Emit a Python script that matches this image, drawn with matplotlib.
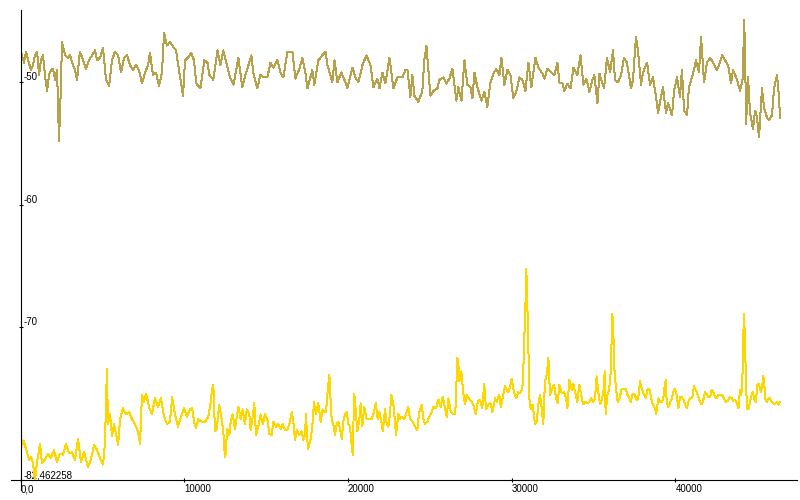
import matplotlib
matplotlib.use("Agg")
import matplotlib.pyplot as plt
from matplotlib.ticker import FixedLocator, FixedFormatter

# upper trace (olive)
upper_x = [
    0, 200, 320, 450, 630, 750, 870, 1000, 1120, 1240,
    1360, 1480, 1610, 1730, 1850, 1970, 2100, 2220, 2340, 2460,
    2520, 2710, 2890, 3010, 3200, 3320, 3440, 3620, 3810, 3990,
    4170, 4360, 4540, 4660, 4850, 5030, 5210, 5400, 5580, 5760,
    5950, 6130, 6310, 6500, 6680, 6860, 7050, 7230, 7410, 7600,
    7780, 7900, 8080, 8270, 8450, 8630, 8760, 8940, 9120, 9310,
    9490, 9670, 9920, 10040, 10220, 10410, 10590,
    10730, 10980, 11220, 11410, 11530, 11770, 12020, 12200, 12380, 12630,
    12810, 13000, 13300, 13540, 13730, 13850, 14090, 14220, 14460, 14640,
    14830, 15070, 15260, 15440, 15680, 15870, 16050, 16290, 16600, 16780,
    17030, 17210, 17390, 17520, 17820, 17940, 18190, 18430, 18620, 18740,
    19040, 19170, 19350, 19590, 19780, 19960, 20270, 20450, 20630, 20880,
    21120, 21370, 21550, 21790, 21920, 22100, 22280, 22530, 22770, 23020,
    23320, 23500, 23630, 23810, 23930, 24050, 24300, 24540, 24660, 24790,
    24910, 25030, 25210, 25460, 25580, 25830, 26010, 26190, 26380, 26620,
    26740, 26930, 27110, 27290, 27480, 27600, 27720, 27900, 28150, 28330,
    28510, 28700, 28880, 29060, 29250, 29370, 29550, 29740, 29920, 30100,
    30290, 30470, 30650, 30840, 31020, 31200, 31450, 31630, 31880, 32000,
    32180, 32430, 32610, 32790, 32910, 33100, 33220, 33400, 33590, 33770,
    34010, 34200, 34380, 34560, 34750, 34930, 35050, 35240, 35360,
    35640, 35820, 36010, 36190, 36310, 36490, 36680, 36860, 37040, 37290,
    37410, 37590, 37720, 37900, 38020, 38270, 38450, 38630, 38820, 38940,
    39120, 39240, 39430, 39550, 39790, 39920, 40100, 40280, 40400, 40530,
    40710, 40830, 41080, 41260, 41440, 41570, 41750, 41930, 42120, 42300,
    42540, 42670, 42850, 43030, 43220, 43400, 43520, 43770, 43950, 44130,
    44190, 44250, 44320, 44440, 44560, 44740, 44870, 44990, 45110, 45290,
    45420, 45600, 45720, 45900, 46030, 46210, 46330, 46390,
]
upper_db = [
    -47.4, -48.4, -47.5, -48.2, -49.0, -48.6, -47.8, -47.5, -49.4, -48.2,
    -47.8, -49.4, -50.7, -49.4, -49.0, -48.9, -49.8, -49.0, -54.8, -50.2,
    -46.7, -47.8, -48.0, -47.8, -48.6, -49.0, -49.8, -47.5, -48.2, -48.9,
    -48.2, -47.8, -47.4, -48.2, -48.0, -47.2, -49.8, -50.3, -48.2, -47.5,
    -47.8, -49.2, -48.0, -47.8, -48.6, -49.0, -48.6, -49.0, -50.1, -49.2,
    -48.6, -47.6, -49.4, -49.2, -50.3, -49.2, -46.0, -47.0, -46.7, -47.1,
    -47.4, -49.0, -51.1, -48.2, -48.0, -47.6, -48.2,
    -50.1, -50.5, -48.2, -48.4, -49.4, -49.8, -47.4, -48.6, -47.4, -48.8,
    -49.7, -50.2, -48.0, -50.4, -49.4, -48.9, -47.8, -49.3, -50.5, -49.4,
    -49.6, -49.6, -48.4, -48.8, -48.2, -49.2, -49.6, -47.5, -47.5, -49.7,
    -48.9, -48.0, -49.2, -50.5, -49.0, -50.2, -48.2, -47.8, -47.5, -48.6,
    -50.0, -48.2, -50.0, -49.2, -49.8, -50.5, -48.8, -49.6, -50.0, -48.6,
    -47.8, -48.6, -50.4, -49.7, -50.5, -49.2, -50.1, -48.0, -50.5, -49.6,
    -49.6, -49.0, -49.0, -51.2, -49.4, -51.1, -51.6, -50.7, -48.2, -47.0,
    -49.0, -51.1, -50.7, -50.5, -49.8, -49.6, -50.1, -49.7, -48.9, -51.5,
    -50.4, -51.5, -48.2, -50.2, -50.4, -51.3, -49.2, -50.4, -51.5, -50.8,
    -52.0, -50.0, -49.3, -48.9, -49.4, -48.0, -50.2, -49.0, -49.4, -51.3,
    -50.7, -49.6, -49.8, -50.7, -48.4, -50.4, -48.0, -48.8, -49.3, -49.7,
    -48.9, -49.2, -49.4, -48.4, -50.0, -50.1, -50.7, -50.1, -50.5, -48.8,
    -49.4, -47.8, -50.2, -49.7, -50.8, -49.8, -49.4, -51.7, -49.3,
    -50.5, -48.0, -49.2, -47.4, -49.8, -50.0, -49.4, -48.0, -48.4, -50.5,
    -49.8, -46.3, -47.5, -50.2, -49.2, -48.4, -50.2, -49.6, -51.2, -52.5,
    -51.2, -50.4, -52.5, -51.7, -52.7, -50.7, -49.6, -51.2, -49.0, -52.3,
    -52.7, -50.4, -49.3, -48.2, -49.2, -46.3, -50.0, -48.4, -48.0, -48.4,
    -49.0, -48.6, -47.8, -48.2, -48.6, -50.1, -49.0, -49.8, -50.7, -49.6,
    -44.9, -46.8, -53.4, -49.6, -52.5, -53.8, -52.3, -52.9, -54.5, -50.5,
    -52.1, -52.9, -53.1, -52.7, -50.5, -49.4, -51.2, -52.9,
]

# lower trace (yellow)
lower_x = [
    0, 80, 200, 380, 510, 630, 750, 870, 1000, 1180,
    1300, 1480, 1670, 1850, 2030, 2220, 2400, 2580, 2770, 2950,
    3130, 3320, 3500, 3680, 3870, 4110, 4290, 4480, 4660, 4850,
    5030, 5150, 5210, 5270, 5330, 5460, 5580, 5700, 5820, 5950,
    6070, 6250, 6430, 6620, 6800, 6980, 7170, 7290, 7410, 7530,
    7660, 7840, 8020, 8200, 8390, 8570, 8760, 8940, 9120, 9250,
    9430, 9610, 9790, 9980, 10160,
    10340, 10480, 10590, 10710, 10850, 11060, 11260, 11460, 11610, 11690,
    11770, 11870, 11980, 12130, 12280, 12380, 12460, 12500, 12620, 12750,
    12830, 12950, 13090, 13200, 13300, 13440, 13560, 13700, 13810, 13970,
    14050, 14180, 14270, 14380, 14520, 14660, 14790, 14930, 15070, 15190,
    15340, 15430, 15600, 15740, 15890, 16010, 16150, 16290, 16410, 16560,
    16660, 16760, 16860, 17020, 17170, 17270, 17370, 17430, 17510, 17570,
    17720, 17840, 17920, 18040, 18180, 18330, 18450, 18530, 18650, 18790,
    18860,
    18900, 18960, 19020, 19140, 19200, 19310, 19410, 19510, 19610, 19710,
    19810, 19920, 20020, 20120, 20220, 20290, 20350, 20380, 20490, 20570,
    20690, 20770, 20870, 20990, 21140, 21240, 21450, 21590, 21690, 21810,
    21910, 22060, 22120, 22260, 22360, 22460, 22560, 22640, 22770, 22870,
    22930, 23070, 23170, 23280, 23420, 23540, 23680, 23790, 23950, 24100,
    24230, 24350, 24500, 24600, 24700, 24840, 24970, 25110, 25210, 25380,
    25520, 25660, 25780, 25880, 26030, 26130, 26270, 26430, 26550, 26680,
    26740, 26800, 26920, 27040, 27150, 27250, 27410, 27560, 27650, 27800,
    27920, 28060, 28200, 28320, 28430, 28570,
    28700, 28820, 28980, 29080, 29240, 29330, 29450, 29590, 29690, 29790,
    29900, 30000, 30140, 30260, 30400, 30510, 30650, 30710, 30770, 30860,
    30890, 30950, 31040, 31080, 31160, 31280, 31420, 31530, 31630, 31730,
    31830, 31930, 32030, 32140, 32240, 32340, 32440, 32590, 32710, 32810,
    32910, 33060, 33200, 33320, 33400, 33520, 33670, 33760, 33910, 34010,
    34130, 34280, 34380, 34480, 34620, 34740, 34850, 34990, 35090, 35190,
    35290, 35400, 35500, 35600, 35680, 35740, 35840, 35950, 36050, 36110,
    36150, 36210, 36270, 36370, 36480, 36570, 36720, 36820, 36970, 37060,
    37190, 37270, 37390, 37490, 37640, 37730, 37840, 37940, 38080, 38190,
    38290, 38410, 38530, 38620, 38760, 38820, 38960,
    39060, 39170, 39260, 39350, 39410, 39470, 39570, 39670, 39780, 39870,
    39960, 40080, 40180, 40280, 40390, 40490, 40590, 40690, 40790, 40890,
    41030, 41140, 41200, 41300, 41400, 41500, 41610, 41710, 41810, 41910,
    42010, 42120, 42220, 42320, 42420, 42530, 42620, 42730, 42830, 42930,
    43080, 43200, 43340, 43440, 43540, 43640, 43750, 43850, 43950, 44030,
    44090, 44150, 44190, 44250, 44320, 44400, 44460, 44560, 44620, 44730,
    44820, 44910, 45010, 45110, 45170, 45230, 45310, 45370, 45430, 45500,
    45580, 45680, 45780, 45890, 45980, 46090, 46190, 46290, 46390,
]
lower_db = [
    -78.4, -79.6, -79.3, -80.2, -80.8, -80.6, -81.1, -82.462258, -81.0, -79.5,
    -81.1, -80.8, -80.3, -80.7, -80.0, -81.0, -80.3, -80.4, -79.5, -80.3,
    -80.2, -80.8, -79.1, -81.0, -80.2, -81.4, -80.8, -79.6, -80.0, -80.7,
    -81.2, -79.5, -76.1, -73.4, -77.9, -77.1, -78.9, -77.9, -78.7, -79.6,
    -77.5, -76.6, -77.1, -76.9, -77.5, -77.9, -78.5, -79.5, -75.5, -76.1,
    -75.4, -76.5, -77.1, -75.8, -76.5, -75.8, -77.3, -77.9, -77.7, -75.7,
    -77.1, -78.1, -77.3, -76.6, -77.3,
    -76.7, -76.6, -77.7, -78.2, -77.5, -77.7, -77.7, -77.3, -76.1, -75.1,
    -74.7, -78.5, -78.3, -76.3, -77.5, -78.5, -80.2, -80.6, -78.3, -78.8,
    -77.7, -77.1, -78.3, -77.3, -76.5, -77.5, -76.7, -77.9, -76.7, -77.1,
    -78.4, -77.3, -76.2, -78.8, -78.1, -77.1, -77.9, -77.1, -77.5, -78.7,
    -78.8, -77.7, -78.1, -77.9, -78.3, -77.9, -78.4, -78.4, -77.9, -76.9,
    -77.7, -79.2, -78.4, -78.8, -78.5, -79.2, -78.8, -77.1, -79.3, -79.9,
    -79.1, -77.7, -76.1, -77.1, -76.2, -77.7, -76.7, -76.9, -76.9, -74.7,
    -73.9,
    -74.8, -76.9, -77.7, -78.1, -78.8, -77.9, -77.7, -78.3, -79.1, -77.7,
    -77.1, -76.9, -77.9, -78.1, -79.6, -80.4, -76.6, -75.4, -77.1, -78.5,
    -77.5, -76.2, -78.1, -76.5, -77.5, -77.5, -77.5, -76.9, -76.2, -77.5,
    -76.9, -77.9, -78.5, -76.7, -77.9, -78.1, -77.1, -75.5, -76.3, -77.7,
    -78.8, -77.1, -77.5, -77.3, -77.5, -77.1, -76.5, -77.5, -77.7, -78.1,
    -78.4, -76.9, -76.3, -77.5, -77.9, -77.7, -77.3, -76.9, -76.5, -76.6,
    -75.9, -76.5, -75.7, -76.3, -77.3, -75.8, -76.9, -77.1, -77.1, -72.5,
    -73.0, -74.4, -73.6, -75.4, -76.3, -75.5, -75.9, -76.1, -76.3, -77.1,
    -76.1, -75.9, -76.6, -74.6, -76.7, -76.3,
    -76.2, -76.9, -75.8, -76.1, -75.5, -76.5, -75.7, -74.8, -75.1, -75.3,
    -74.8, -74.2, -75.3, -75.8, -75.3, -75.4, -75.0, -73.4, -71.0, -67.2,
    -65.2, -67.9, -73.0, -75.8, -76.7, -76.3, -77.9, -77.7, -76.3, -75.5,
    -76.6, -77.9, -74.4, -73.9, -72.5, -75.5, -75.1, -74.7, -75.8, -76.2,
    -74.7, -75.4, -75.3, -75.8, -76.6, -74.3, -75.1, -74.6, -75.5, -76.1,
    -74.7, -75.8, -76.3, -76.1, -76.2, -76.1, -75.8, -76.1, -75.8, -74.0,
    -75.3, -76.3, -75.9, -75.3, -73.6, -77.1, -75.5, -75.1, -73.6, -70.6,
    -68.9, -70.5, -73.4, -75.0, -76.1, -75.9, -75.0, -75.0, -75.0, -75.5,
    -75.8, -76.1, -75.4, -75.5, -75.9, -75.8, -74.4, -75.0, -75.5, -75.8,
    -75.1, -75.0, -75.8, -76.3, -76.6, -77.1, -75.8,
    -76.1, -76.1, -75.8, -74.7, -74.3, -76.1, -76.5, -76.2, -75.8, -75.3,
    -75.0, -75.5, -76.6, -75.7, -75.7, -75.9, -76.3, -76.6, -76.1, -75.8,
    -75.8, -74.8, -75.0, -75.3, -75.7, -76.1, -76.3, -75.9, -75.3, -75.4,
    -75.7, -75.7, -75.1, -75.3, -75.7, -75.8, -75.5, -75.5, -75.5, -75.7,
    -76.1, -76.0, -75.7, -75.8, -76.0, -75.9, -76.2, -76.6, -75.1, -75.5,
    -74.4, -70.7, -68.9, -70.9, -75.0, -76.7, -76.7, -76.1, -75.7, -75.3,
    -75.8, -76.1, -74.7, -74.6, -75.0, -75.3, -74.7, -74.0, -74.6, -75.9,
    -76.1, -75.8, -75.8, -76.1, -76.2, -76.3, -76.1, -76.3, -76.1,
]

x_ticks = [0, 10000, 20000, 30000, 40000]
x_tick_labels = ["0,0", "10000", "20000", "30000", "40000"]
y_ticks = [-82.462258, -70, -60, -50]
y_tick_labels = ["-82,462258", "-70", "-60", "-50"]

fig = plt.figure(figsize=(8, 5), dpi=100)
fig.set_facecolor("white")
ax = fig.add_axes([0.02588, 0.04, 0.96975, 0.94])

ax.plot(upper_x, upper_db, color="#b5a24a", linewidth=0.72, antialiased=False)
ax.plot(lower_x, lower_db, color="#ffd700", linewidth=0.72, antialiased=False)

ax.set_xlim(0, 47400)
ax.set_ylim(-82.462258, -44.1)

for side in ["top", "right"]:
    ax.spines[side].set_visible(False)
ax.spines["left"].set_linewidth(0.8)
ax.spines["bottom"].set_linewidth(0.8)
ax.spines["left"].set_bounds(-83.28, -44.1)
ax.spines["bottom"].set_bounds(-610, 47400)

ax.xaxis.set_major_locator(FixedLocator(x_ticks))
ax.xaxis.set_major_formatter(FixedFormatter(x_tick_labels))
ax.yaxis.set_major_locator(FixedLocator(y_ticks))
ax.yaxis.set_major_formatter(FixedFormatter(y_tick_labels))

ax.tick_params(axis="both", direction="inout", length=3.2, width=0.8,
               labelsize=7, colors="black")
ax.tick_params(axis="x", pad=1.6)
ax.tick_params(axis="y", pad=-3.9)

for lbl in ax.get_xticklabels():
    lbl.set_family("Liberation Sans")
    lbl.set_horizontalalignment("left")
for lbl in ax.get_yticklabels():
    lbl.set_family("Liberation Sans")
    lbl.set_horizontalalignment("left")
    lbl.set_verticalalignment("bottom")

fig.savefig("out.png", dpi=100, facecolor="white")
